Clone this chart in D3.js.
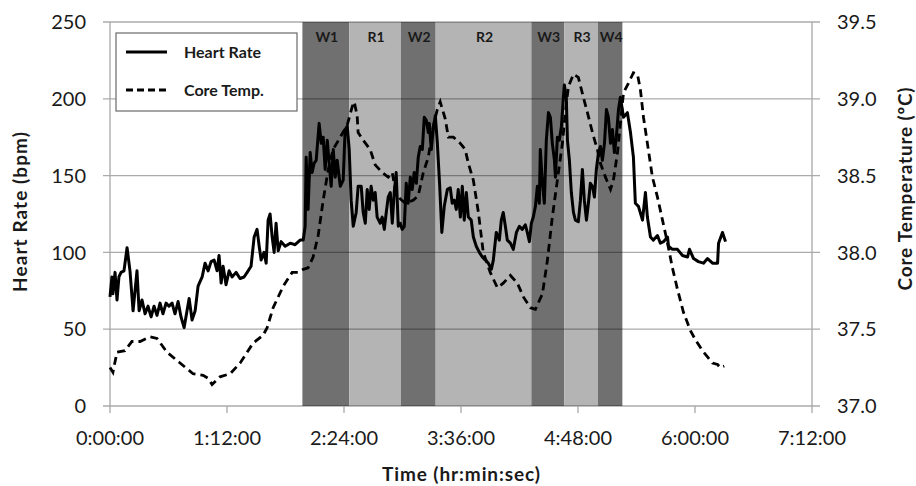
<!DOCTYPE html>
<html>
<head>
<meta charset="utf-8">
<script src="https://cdn.jsdelivr.net/npm/d3@7"></script>
<style>
  body { margin: 0; background: #fff; }
  #wrapper { width: 916px; height: 486px; }
  text { font-family: Lato, "Open Sans", sans-serif; fill: #1a1a1a; }
  .tick-label { font-size: 20px; }
  .axis-title { font-size: 19px; font-weight: bold; }
  .phase-label { font-size: 14px; font-weight: bold; }
  .legend-label { font-size: 16px; font-weight: bold; }
</style>
</head>
<body>
<div id="wrapper"></div>
<script>
// elapsed time in minutes
const hrTime = [
  0, 1.2, 1.8, 3.1, 4.3, 5.5, 6.8, 8.6, 10.5, 12.3, 14.2, 15.4, 16.6, 17.9, 19.7,
  21.6, 23.4, 25.3, 27.1, 28.9, 30.8, 32.6, 34.5, 36.3, 38.2, 40.0, 41.9, 43.7,
  45.6, 47.4, 48.7, 50.5, 52.4, 54.2, 56.7, 58.5, 60.4, 62.2, 64.1, 65.9, 67.1,
  68.4, 69.6, 71.4, 73.3, 75.1, 77.6, 80.0, 82.5, 84.4, 86.8, 88.7, 90.5, 91.8,
  93.0, 94.8, 96.1, 97.3, 98.5, 99.8, 101.0, 102.2, 103.5, 105.3, 107.8, 110.9,
  113.9, 117.0, 118.9, 120.1, 120.7, 121.9, 123.2, 124.4, 125.6, 126.9, 128.7,
  130.0, 131.2, 132.4, 133.7, 134.9, 136.1, 137.4, 138.6, 139.8, 141.7, 143.5,
  144.7, 146.0, 147.2, 148.4, 149.7, 151.5, 152.7, 154.6, 155.8, 157.1, 158.3,
  159.5, 160.7, 162.0, 163.2, 164.4, 166.3, 167.5, 168.8, 170.0, 171.2, 172.5,
  173.7, 174.9, 176.1, 177.4, 178.6, 179.8, 181.1, 182.3, 183.5, 184.8, 186.0,
  187.2, 188.5, 189.7, 190.9, 192.2, 193.4, 194.6, 195.9, 196.5, 197.7, 198.9,
  200.2, 201.4, 202.9, 204.2, 205.7, 207.6, 209.4, 210.6, 211.9, 213.1, 214.3,
  215.6, 216.8, 218.0, 219.3, 220.5, 222.3, 223.6, 225.4, 227.3, 229.1, 231.0,
  232.8, 234.7, 235.9, 237.7, 239.6, 240.8, 242.0, 243.3, 244.5, 246.4, 248.2,
  250.1, 251.9, 253.7, 255.6, 256.8, 258.1, 259.3, 260.5, 261.8, 263.0, 264.2,
  264.8, 266.1, 267.3, 268.5, 269.8, 271.0, 272.2, 273.5, 274.1, 275.3, 276.5,
  277.8, 279.0, 279.6, 280.8, 281.5, 282.7, 283.9, 285.2, 286.4, 288.2, 289.5,
  290.7, 291.9, 293.2, 294.4, 295.6, 296.9, 298.1, 299.3, 300.6, 301.8, 303.0,
  304.3, 305.5, 306.7, 308.0, 309.2, 310.4, 311.6, 312.9, 314.1, 316.0, 318.4,
  320.3, 322.1, 323.3, 325.2, 327.7, 329.5, 330.7, 332.6, 334.4, 336.9, 338.7,
  340.6, 343.1, 343.7, 346.1, 349.2, 352.3, 355.4, 356.6, 359.1, 362.1, 365.2,
  367.7, 370.8, 373.9, 374.5, 376.9, 378.8,
]
const heartRate = [
  71, 84, 73, 87, 69, 84, 87, 88, 103, 88, 62, 75, 88, 62, 69,
  60, 65, 58, 65, 59, 67, 60, 67, 65, 67, 60, 68, 58,
  51, 62, 70, 56, 62, 78, 84, 93, 88, 94, 95, 88, 98,
  80, 91, 79, 88, 84, 87, 83, 84, 87, 91, 110, 115, 104,
  95, 100, 93, 121, 125, 110, 100, 119, 101, 107, 104, 106,
  105, 108, 108, 117, 162, 128, 165, 152, 158, 160, 184,
  171, 175, 154, 173, 158, 143, 167, 149, 160, 143, 147,
  180, 182, 167, 134, 117, 126, 143, 143, 126, 119, 141,
  128, 143, 134, 139, 123, 119, 123, 115, 126, 136, 139,
  119, 139, 152, 117, 119, 115, 117, 145, 132, 149, 141,
  152, 145, 162, 169, 167, 188, 186, 178, 184, 167, 180,
  189, 172, 143, 113, 130, 141, 142, 132, 134, 128, 141,
  123, 143, 121, 139, 123, 121, 110, 104, 100, 97, 95,
  93, 89, 95, 113, 108, 121, 126, 117, 108, 106, 102,
  113, 117, 115, 118, 113, 107, 119, 123, 130, 143, 132,
  167, 145, 132, 173, 191, 188, 171, 160, 149, 175, 173,
  182, 201, 209, 201, 173, 160, 139, 126, 121, 120, 134,
  154, 134, 121, 132, 145, 143, 136, 154, 165, 169, 160,
  171, 193, 188, 171, 180, 165, 175, 193, 201, 188, 191,
  178, 162, 132, 130, 121, 139, 123, 110, 108, 111, 106,
  107, 110, 104, 102, 102, 98, 97, 102, 96, 94, 93,
  96, 93, 93, 106, 113, 107,
]

const tempTime = [
  0, 1.8, 4.3, 9.2, 13.5, 18.5, 24.6, 28.9, 35.1, 43.1, 51.1, 57.3, 60.4, 62.8,
  67.7, 73.9, 80.1, 88.1, 94.2, 96.7, 100.4, 106.6, 112.1, 115.8, 118.9, 121.9,
  125.0, 128.1, 131.2, 134.3, 137.3, 141.7, 146.0, 149.1, 150.3, 152.1, 152.7,
  155.8, 160.1, 163.2, 167.5, 171.2, 173.7, 175.5, 177.4, 181.7, 186.6, 189.7,
  192.8, 195.9, 198.9, 201.4, 203.2, 206.3, 208.2, 211.3, 215.6, 218.6, 220.5,
  223.6, 226.7, 229.7, 234.0, 238.4, 242.0, 246.4, 250.7, 254.4, 258.7, 261.8,
  266.1, 269.2, 272.2, 275.3, 278.4, 280.2, 282.1, 285.2, 288.2, 291.3, 293.8,
  296.9, 299.9, 301.8, 304.9, 308.0, 309.8, 312.3, 314.1, 316.0, 319.0, 322.1,
  324.6, 326.4, 328.3, 330.7, 333.8, 336.9, 340.0, 343.1, 346.1, 349.2, 352.9,
  357.2, 360.3, 364.6, 367.7, 370.8, 373.9, 375.5, 378.0,
]
const coreTemp = [
  37.25, 37.22, 37.35, 37.36, 37.42, 37.42, 37.45, 37.44, 37.35, 37.28, 37.21, 37.20, 37.18, 37.14,
  37.19, 37.21, 37.28, 37.41, 37.46, 37.51, 37.64, 37.78, 37.87, 37.87, 37.89, 37.90,
  37.97, 38.11, 38.34, 38.54, 38.67, 38.75, 38.83, 38.95, 38.98, 38.89, 38.78,
  38.73, 38.67, 38.57, 38.52, 38.49, 38.52, 38.41, 38.36, 38.32, 38.34, 38.37,
  38.52, 38.62, 38.82, 38.93, 38.98, 38.87, 38.75, 38.75, 38.71, 38.67, 38.58,
  38.47, 38.26, 38.00, 37.87, 37.77, 37.80, 37.85, 37.80, 37.71, 37.64, 37.63,
  37.73, 37.95, 38.23, 38.47, 38.71, 38.91, 39.08, 39.16, 39.14, 39.01, 38.91,
  38.78, 38.67, 38.58, 38.49, 38.41, 38.47, 38.65, 38.84, 39.04, 39.10, 39.17,
  39.16, 39.06, 38.88, 38.71, 38.49, 38.36, 38.21, 38.06, 37.90, 37.76, 37.61,
  37.49, 37.43, 37.36, 37.32, 37.28, 37.27, 37.25, 37.26,
]

// work / rest phases (minutes)
const phaseNames = ["W1", "R1", "W2", "R2", "W3", "R3", "W4"]
const phaseStarts = [118.4, 147.2, 179.0, 200.4, 259.3, 279.5, 300.2]
const phaseEnds = [147.2, 179.0, 200.4, 259.3, 279.5, 300.2, 315.3]

const timeTicks = [0, 72, 144, 216, 288, 360, 432]
const hrTicks = [0, 50, 100, 150, 200, 250]
const tempTicks = [37.0, 37.5, 38.0, 38.5, 39.0, 39.5]

function drawChart() {
  let dimensions = {
    width: 916,
    height: 486,
    margin: {
      top: 22,
      right: 104,
      bottom: 80,
      left: 110,
    },
  }
  dimensions.boundedWidth = dimensions.width - dimensions.margin.left - dimensions.margin.right
  dimensions.boundedHeight = dimensions.height - dimensions.margin.top - dimensions.margin.bottom

  const wrapper = d3.select("#wrapper")
    .append("svg")
      .attr("width", dimensions.width)
      .attr("height", dimensions.height)

  const bounds = wrapper.append("g")
    .attr("transform", `translate(${dimensions.margin.left}, ${dimensions.margin.top})`)

  // scales
  const xScale = d3.scaleLinear()
    .domain([0, 432])
    .range([0, dimensions.boundedWidth])
  const yScale = d3.scaleLinear()
    .domain([0, 250])
    .range([dimensions.boundedHeight, 0])
  const tempScale = d3.scaleLinear()
    .domain([37, 39.5])
    .range([dimensions.boundedHeight, 0])

  const timeFormat = m => `${Math.floor(m / 60)}:${d3.format("02")(m % 60)}:00`

  // phase bands
  const phases = phaseNames.map((name, i) => ({ name, start: phaseStarts[i], end: phaseEnds[i] }))
  bounds.selectAll(".band")
    .data(phases)
    .enter().append("rect")
      .attr("class", "band")
      .attr("x", d => xScale(d.start))
      .attr("width", d => xScale(d.end) - xScale(d.start))
      .attr("y", 0)
      .attr("height", dimensions.boundedHeight)
      .attr("fill", d => d.name[0] == "W" ? "#707070" : "#b4b4b4")

  // gridlines (left + right tick marks included)
  bounds.selectAll(".grid")
    .data(hrTicks)
    .enter().append("line")
      .attr("class", "grid")
      .attr("x1", -7)
      .attr("x2", dimensions.boundedWidth + 8)
      .attr("y1", d => yScale(d))
      .attr("y2", d => yScale(d))
      .attr("stroke", "#000")
      .attr("stroke-opacity", 0.33)
      .attr("stroke-width", 1.3)

  bounds.selectAll(".vaxis")
    .data([0, 432])
    .enter().append("line")
      .attr("class", "vaxis")
      .attr("x1", d => xScale(d))
      .attr("x2", d => xScale(d))
      .attr("y1", 0)
      .attr("y2", dimensions.boundedHeight)
      .attr("stroke", "#a8a8a8")
      .attr("stroke-width", 1.3)

  bounds.selectAll(".xtick")
    .data(timeTicks)
    .enter().append("line")
      .attr("class", "xtick")
      .attr("x1", d => xScale(d))
      .attr("x2", d => xScale(d))
      .attr("y1", dimensions.boundedHeight)
      .attr("y2", dimensions.boundedHeight + 7)
      .attr("stroke", "#a8a8a8")
      .attr("stroke-width", 1.3)

  // tick labels
  bounds.selectAll(".xlabel")
    .data(timeTicks)
    .enter().append("text")
      .attr("class", "tick-label")
      .attr("x", d => xScale(d))
      .attr("y", dimensions.boundedHeight + 39)
      .attr("text-anchor", "middle")
      .text(timeFormat)

  bounds.selectAll(".ylabel")
    .data(hrTicks)
    .enter().append("text")
      .attr("class", "tick-label")
      .attr("x", -24)
      .attr("y", d => yScale(d))
      .attr("dy", "0.36em")
      .attr("text-anchor", "end")
      .text(d => d)

  bounds.selectAll(".tlabel")
    .data(tempTicks)
    .enter().append("text")
      .attr("class", "tick-label")
      .attr("x", dimensions.boundedWidth + 25)
      .attr("y", d => tempScale(d))
      .attr("dy", "0.36em")
      .text(d => d.toFixed(1))

  // axis titles (stretched to the widths of the original lettering)
  wrapper.append("text")
      .attr("class", "axis-title")
      .attr("x", 461)
      .attr("y", 481)
      .attr("text-anchor", "middle")
      .attr("textLength", 158)
      .attr("lengthAdjust", "spacing")
      .text("Time (hr:min:sec)")

  wrapper.append("text")
      .attr("class", "axis-title")
      .attr("transform", "translate(27, 212) rotate(-90)")
      .attr("text-anchor", "middle")
      .attr("textLength", 160)
      .attr("lengthAdjust", "spacing")
      .text("Heart Rate (bpm)")

  wrapper.append("text")
      .attr("class", "axis-title")
      .attr("transform", "translate(912, 189) rotate(-90)")
      .attr("text-anchor", "middle")
      .attr("textLength", 203)
      .attr("lengthAdjust", "spacing")
      .text("Core Temperature (ºC)")

  // series
  const hrLine = d3.line()
    .x((d, i) => xScale(hrTime[i]))
    .y(d => yScale(d))
  const tempLine = d3.line()
    .x((d, i) => xScale(tempTime[i]))
    .y(d => tempScale(d))

  bounds.append("path")
      .attr("d", tempLine(coreTemp))
      .attr("fill", "none")
      .attr("stroke", "#000")
      .attr("stroke-width", 2.8)
      .attr("stroke-dasharray", "8,5")

  bounds.append("path")
      .attr("d", hrLine(heartRate))
      .attr("fill", "none")
      .attr("stroke", "#000")
      .attr("stroke-width", 3)
      .attr("stroke-linejoin", "round")

  // phase labels
  bounds.selectAll(".phase-label")
    .data(phases)
    .enter().append("text")
      .attr("class", "phase-label")
      .attr("x", d => xScale((d.start + d.end) / 2) + 1)
      .attr("y", 20)
      .attr("text-anchor", "middle")
      .text(d => d.name)

  // legend
  const legend = wrapper.append("g")
    .attr("transform", "translate(116, 33)")
  legend.append("rect")
      .attr("width", 181)
      .attr("height", 78)
      .attr("fill", "#fff")
      .attr("stroke", "#6a6a6a")
      .attr("stroke-width", 1.2)
  const legendItems = legend.selectAll(".legend-item")
    .data(["Heart Rate", "Core Temp."])
    .enter().append("g")
      .attr("transform", (d, i) => `translate(0, ${19 + i * 38})`)
  legendItems.append("line")
      .attr("x1", 10)
      .attr("x2", 51)
      .attr("stroke", "#000")
      .attr("stroke-width", 2.8)
      .attr("stroke-dasharray", (d, i) => i ? "7,4" : null)
  legendItems.append("text")
      .attr("class", "legend-label")
      .attr("x", 68)
      .attr("dy", "0.36em")
      .text(d => d)
}
drawChart()
</script>
</body>
</html>
